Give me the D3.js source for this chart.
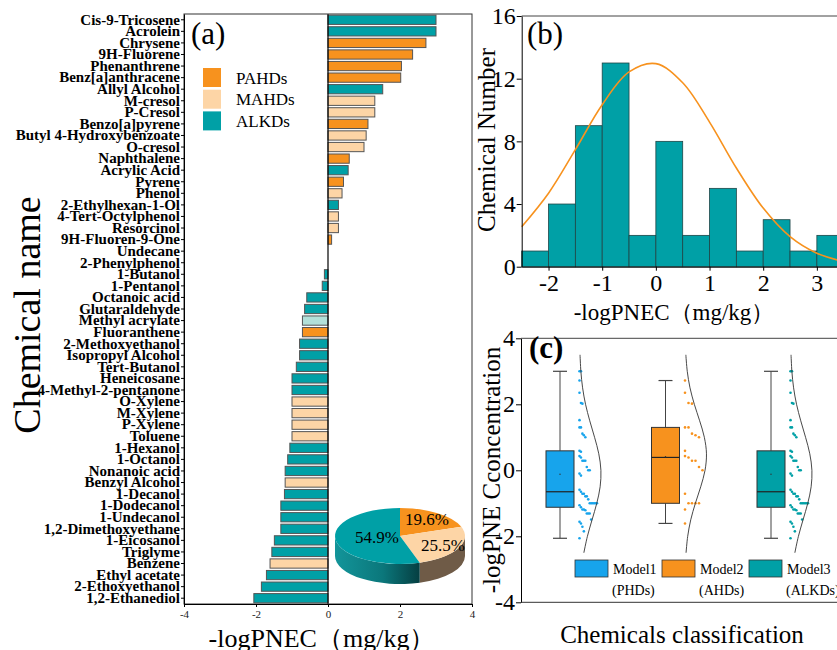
<!DOCTYPE html>
<html>
<head>
<meta charset="utf-8">
<script src="https://cdn.jsdelivr.net/npm/d3@7"></script>
<style>
  body { margin: 0; background: #fff; }
  svg { display: block; font-family: "Times New Roman", "Liberation Serif", serif; }
</style>
</head>
<body>
<div id="chart"></div>
<script>
// Chemicals, top to bottom as in panel (a)
const chemicals = [
    "Cis-9-Tricosene", "Acrolein", "Chrysene", "9H-Fluorene", "Phenanthrene",
    "Benz[a]anthracene", "Allyl Alcohol", "M-cresol", "P-Cresol", "Benzo[a]pyrene",
    "Butyl 4-Hydroxybenzoate", "O-cresol", "Naphthalene", "Acrylic Acid", "Pyrene",
    "Phenol", "2-Ethylhexan-1-Ol", "4-Tert-Octylphenol", "Resorcinol", "9H-Fluoren-9-One",
    "Undecane", "2-Phenylphenol", "1-Butanol", "1-Pentanol", "Octanoic acid",
    "Glutaraldehyde", "Methyl acrylate", "Fluoranthene", "2-Methoxyethanol", "Isopropyl Alcohol",
    "Tert-Butanol", "Heneicosane", "4-Methyl-2-pentanone", "O-Xylene", "M-Xylene",
    "P-Xylene", "Toluene", "1-Hexanol", "1-Octanol", "Nonanoic acid",
    "Benzyl Alcohol", "1-Decanol", "1-Dodecanol", "1-Undecanol", "1,2-Dimethoxyethane",
    "1-Eicosanol", "Triglyme", "Benzene", "Ethyl acetate", "2-Ethoxyethanol",
    "1,2-Ethanediol"
];

// -logPNEC (mg/kg)
const pnec = [
    3.0, 3.0, 2.72, 2.35, 2.04,
    2.02, 1.52, 1.30, 1.30, 1.11,
    1.06, 1.0, 0.59, 0.56, 0.43,
    0.39, 0.29, 0.29, 0.29, 0.10,
    0, 0, -0.10, -0.16, -0.59,
    -0.65, -0.71, -0.71, -0.79, -0.79,
    -0.88, -1.0, -1.0, -1.0, -1.0,
    -1.0, -1.0, -1.06, -1.12, -1.19,
    -1.19, -1.21, -1.31, -1.31, -1.31,
    -1.49, -1.56, -1.61, -1.71, -1.85,
    -2.06
];

// class of each chemical
const classes = [
    "ALKD", "ALKD", "PAHD", "PAHD", "PAHD",
    "PAHD", "ALKD", "MAHD", "MAHD", "PAHD",
    "MAHD", "MAHD", "PAHD", "ALKD", "PAHD",
    "MAHD", "ALKD", "MAHD", "MAHD", "PAHD",
    "ALKD", "PAHD", "ALKD", "ALKD", "ALKD",
    "ALKD", "ALKD", "PAHD", "ALKD", "ALKD",
    "ALKD", "ALKD", "ALKD", "MAHD", "MAHD",
    "MAHD", "MAHD", "ALKD", "ALKD", "ALKD",
    "MAHD", "ALKD", "ALKD", "ALKD", "ALKD",
    "ALKD", "ALKD", "MAHD", "ALKD", "ALKD",
    "ALKD"
];

const classKeys = ["PAHD", "MAHD", "ALKD"];
const classLabels = ["PAHDs", "MAHDs", "ALKDs"];
const classColors = {PAHD: "#F7921E", MAHD: "#FDD5A6", ALKD: "#00A0A6"};
const paleBar = "Methyl acrylate";

// Fitted curve drawn over histogram (b)
const fitX = [-2.5, -2, -1.5, -1, -0.5, 0, 0.5, 1, 1.5, 2, 2.5, 3, 3.5];
const fitCount = [2.55, 4.69, 7.47, 10.34, 12.43, 12.96, 11.74, 9.23, 6.30, 3.74, 1.92, 0.86, 0.33];

// Half-violin outlines in (c): relative density at each value
const densValues = [3.5, 3, 2.5, 2, 1.5, 1, 0.5, 0, -0.5, -1, -1.5, -2, -2.5];
const densAll = [0.025, 0.064, 0.144, 0.281, 0.477, 0.701, 0.897, 0.996, 0.960, 0.803, 0.584, 0.368, 0.202];
const densAromatic = [0.040, 0.105, 0.232, 0.434, 0.682, 0.900, 0.999, 0.932, 0.731, 0.482, 0.267, 0.125, 0.049];

const models = ["Model1", "Model2", "Model3"];
const modelSubs = ["(PHDs)", "(AHDs)", "(ALKDs)"];
const modelColors = ["#17A4EC", "#F7921E", "#00A0A6"];

const plainTick = d => String(d);
const serif = "'Times New Roman','Liberation Serif',serif";

const W = 837, H = 650;
const svg = d3.select("#chart").append("svg").attr("width", W).attr("height", H);

// ---------------- Panel (a): horizontal bars ----------------
const a = {left: 184, right: 472, top: 14, bottom: 604};

const xA = d3.scaleLinear().domain([-4, 4]).range([a.left, a.right]);
const yA = d3.scaleBand().domain(chemicals).range([a.top, a.bottom])
    .paddingInner(0.2).paddingOuter(0.1);

const barData = chemicals.map((name, i) => ({name, value: pnec[i], cls: classes[i]}));

svg.append("g")
    .selectAll("rect")
    .data(barData)
    .enter()
    .append("rect")
    .attr("x", d => xA(Math.min(0, d.value)))
    .attr("y", d => yA(d.name))
    .attr("width", d => Math.abs(xA(d.value) - xA(0)))
    .attr("height", yA.bandwidth())
    .attr("fill", d => d.name === paleBar ? "#B2E0D9" : classColors[d.cls])
    .attr("stroke", "#555")
    .attr("stroke-width", 1);

// zero line
svg.append("line")
    .attr("x1", xA(0)).attr("x2", xA(0))
    .attr("y1", a.top).attr("y2", a.bottom)
    .attr("stroke", "#000").attr("stroke-width", 1.2);

// frame
svg.append("rect")
    .attr("x", a.left).attr("y", a.top)
    .attr("width", a.right - a.left).attr("height", a.bottom - a.top)
    .attr("fill", "none").attr("stroke", "#333").attr("stroke-width", 1);

// y axis with chemical names
const yAxisA = svg.append("g")
    .attr("transform", `translate(${a.left},0)`)
    .call(d3.axisLeft(yA).tickSize(3).tickPadding(1).tickSizeOuter(0));
yAxisA.select(".domain").attr("stroke", "#000");
yAxisA.selectAll("text")
    .style("font-family", serif)
    .style("font-size", "15px")
    .style("font-weight", "bold")
    .attr("fill", "#000");

// x axis
const xAxisA = svg.append("g")
    .attr("transform", `translate(0,${a.bottom})`)
    .call(d3.axisBottom(xA).tickValues([-4, -2, 0, 2, 4]).tickFormat(plainTick)
        .tickSize(3).tickSizeOuter(0));
xAxisA.selectAll("text")
    .style("font-family", serif)
    .style("font-size", "11px")
    .attr("fill", "#222");

svg.append("text")
    .attr("x", 322).attr("y", 647)
    .attr("text-anchor", "middle")
    .style("font-size", "26px")
    .text("-logPNEC（mg/kg）");

svg.append("text")
    .attr("transform", "translate(40,315) rotate(-90)")
    .attr("text-anchor", "middle")
    .style("font-size", "38px")
    .text("Chemical name");

svg.append("text")
    .attr("x", 191).attr("y", 44)
    .style("font-size", "31px")
    .text("(a)");

// legend for classes
const legA = svg.append("g").attr("transform", "translate(203,68)");
classKeys.forEach((k, i) => {
    legA.append("rect")
        .attr("x", 0).attr("y", i * 21.7)
        .attr("width", 18).attr("height", 19)
        .attr("fill", classColors[k]);
    legA.append("text")
        .attr("x", 33).attr("y", i * 21.7 + 15.5)
        .style("font-size", "17px")
        .text(classLabels[i]);
});

// ---------------- Pie inset ----------------
const pieCounts = classKeys.map(k => ({key: k, count: classes.filter(c => c === k).length}));
const pieTotal = d3.sum(pieCounts, d => d.count);
const pieArcs = d3.pie().sort(null).value(d => d.count)(pieCounts);

const pc = {cx: 400, cy: 536, rx: 65, ry: 28, depth: 20};
const pieLabelR = [0.72, 0.74, 0.36];

function ep(angle, dy = 0) {
    const t = angle - Math.PI / 2;
    return [pc.cx + pc.rx * Math.cos(t), pc.cy + pc.ry * Math.sin(t) + dy];
}

const defs = svg.append("defs");
const gTeal = defs.append("linearGradient").attr("id", "sideTeal")
    .attr("gradientUnits", "userSpaceOnUse")
    .attr("x1", pc.cx - pc.rx).attr("x2", pc.cx + 22).attr("y1", 0).attr("y2", 0);
gTeal.append("stop").attr("offset", "0").attr("stop-color", "#13959A");
gTeal.append("stop").attr("offset", "0.55").attr("stop-color", "#0B777B");
gTeal.append("stop").attr("offset", "1").attr("stop-color", "#053B3E");

const sideColors = {PAHD: "#8A5310", MAHD: "#6F5B47", ALKD: "url(#sideTeal)"};

const pieG = svg.append("g");

// visible sides (front half of the ellipse)
pieArcs.forEach(d => {
    const s0 = Math.max(d.startAngle, Math.PI / 2);
    const s1 = Math.min(d.endAngle, Math.PI * 1.5);
    if (s0 >= s1) return;
    const p0 = ep(s0), p1 = ep(s1), q1 = ep(s1, pc.depth), q0 = ep(s0, pc.depth);
    const path = `M${p0}A${pc.rx},${pc.ry} 0 0 1 ${p1}L${q1}A${pc.rx},${pc.ry} 0 0 0 ${q0}Z`;
    pieG.append("path").attr("d", path).attr("fill", sideColors[d.data.key]);
});

// top faces
pieArcs.forEach(d => {
    const p0 = ep(d.startAngle), p1 = ep(d.endAngle);
    const large = d.endAngle - d.startAngle > Math.PI ? 1 : 0;
    const path = `M${pc.cx},${pc.cy}L${p0}A${pc.rx},${pc.ry} 0 ${large} 1 ${p1}Z`;
    pieG.append("path").attr("d", path).attr("fill", classColors[d.data.key]);
});

pieArcs.forEach((d, i) => {
    const mid = (d.startAngle + d.endAngle) / 2 - Math.PI / 2;
    const f = pieLabelR[i];
    pieG.append("text")
        .attr("x", pc.cx + pc.rx * f * Math.cos(mid))
        .attr("y", pc.cy + pc.ry * f * Math.sin(mid))
        .attr("text-anchor", "middle")
        .attr("dominant-baseline", "central")
        .style("font-size", "17px")
        .text((d.data.count / pieTotal * 100).toFixed(1) + "%");
});

// ---------------- Panel (b): histogram ----------------
const b = {left: 521.7, top: 16, bottom: 266.7};
const xB = d3.scaleLinear().domain([-2.5, 3.5]).range([b.left, b.left + 322]);
const yB = d3.scaleLinear().domain([0, 16]).range([b.bottom, b.top]);

const bins = d3.bin().domain([-2.5, 3.5]).thresholds(d3.range(-2, 3.5, 0.5))(pnec);

svg.append("g")
    .selectAll("rect")
    .data(bins)
    .enter()
    .append("rect")
    .attr("x", d => xB(d.x0))
    .attr("y", d => yB(d.length))
    .attr("width", d => xB(d.x1) - xB(d.x0))
    .attr("height", d => yB(0) - yB(d.length))
    .attr("fill", "#00A0A6")
    .attr("stroke", "#1E4546")
    .attr("stroke-width", 0.8);

svg.append("path")
    .datum(fitX.map((x, i) => [x, fitCount[i]]))
    .attr("d", d3.line().x(d => xB(d[0])).y(d => yB(d[1])).curve(d3.curveCatmullRom))
    .attr("fill", "none")
    .attr("stroke", "#F7921E")
    .attr("stroke-width", 1.6);

svg.append("line")
    .attr("x1", b.left).attr("x2", W).attr("y1", b.top).attr("y2", b.top)
    .attr("stroke", "#444").attr("stroke-width", 1);

const yAxisB = svg.append("g")
    .attr("transform", `translate(${b.left},0)`)
    .call(d3.axisLeft(yB).tickValues([0, 4, 8, 12, 16]).tickFormat(plainTick)
        .tickSize(5).tickPadding(1).tickSizeOuter(0));
const xAxisB = svg.append("g")
    .attr("transform", `translate(0,${b.bottom})`)
    .call(d3.axisBottom(xB).tickValues([-2, -1, 0, 1, 2, 3]).tickFormat(plainTick)
        .tickSize(4).tickPadding(3).tickSizeOuter(0));
[yAxisB, xAxisB].forEach(g => {
    g.selectAll("text")
        .style("font-family", serif)
        .style("font-size", "24px")
        .attr("fill", "#000");
});

svg.append("text")
    .attr("x", 674).attr("y", 320)
    .attr("text-anchor", "middle")
    .style("font-size", "23px")
    .text("-logPNEC（mg/kg）");

svg.append("text")
    .attr("transform", "translate(495,140) rotate(-90)")
    .attr("text-anchor", "middle")
    .style("font-size", "25px")
    .text("Chemical Number");

svg.append("text")
    .attr("x", 527).attr("y", 44)
    .style("font-size", "31px")
    .text("(b)");

// ---------------- Panel (c): box + dots + half violin ----------------
const c = {left: 521, top: 338.3, bottom: 602.3};
const xC = d3.scalePoint().domain(models).range([560, 771]);
const yC = d3.scaleLinear().domain([-4, 4]).range([c.bottom, c.top]);

const groupValues = [
    pnec,
    pnec.filter((v, i) => classes[i] !== "ALKD"),
    pnec
];
const groupDens = [densAll, densAromatic, densAll];

// quantile with (n+1)p positions
function quant(sortedAsc, p) {
    const n = sortedAsc.length;
    let pos = (n + 1) * p;
    pos = Math.max(1, Math.min(n, pos));
    const lo = Math.floor(pos), hi = Math.ceil(pos);
    return sortedAsc[lo - 1] + (pos - lo) * (sortedAsc[hi - 1] - sortedAsc[lo - 1]);
}

const boxW = 28, capW = 14, dotGap = 19.5, violinW = 21.5;

models.forEach((m, gi) => {
    const vals = groupValues[gi];
    const asc = vals.slice().sort((p, q) => p - q);
    const q1 = quant(asc, 0.25), med = quant(asc, 0.5), q3 = quant(asc, 0.75);
    const lo = asc[0], hi = asc[asc.length - 1];
    const cx = xC(m);
    const g = svg.append("g");

    // whiskers
    g.append("line").attr("x1", cx).attr("x2", cx).attr("y1", yC(hi)).attr("y2", yC(q3))
        .attr("stroke", "#444");
    g.append("line").attr("x1", cx).attr("x2", cx).attr("y1", yC(q1)).attr("y2", yC(lo))
        .attr("stroke", "#444");
    [hi, lo].forEach(v => {
        g.append("line").attr("x1", cx - capW / 2).attr("x2", cx + capW / 2)
            .attr("y1", yC(v)).attr("y2", yC(v)).attr("stroke", "#444").attr("stroke-width", 1.2);
    });
    g.append("rect")
        .attr("x", cx - boxW / 2).attr("y", yC(q3))
        .attr("width", boxW).attr("height", yC(q1) - yC(q3))
        .attr("fill", modelColors[gi]).attr("stroke", "#333").attr("stroke-width", 1);
    g.append("line").attr("x1", cx - boxW / 2).attr("x2", cx + boxW / 2)
        .attr("y1", yC(med)).attr("y2", yC(med)).attr("stroke", "#222").attr("stroke-width", 1.2);
    g.append("circle").attr("cx", cx).attr("cy", yC(d3.mean(vals))).attr("r", 0.7)
        .attr("fill", "#333");

    // dots stacked to the right inside 0.5-wide bins
    const desc = vals.slice().sort((p, q) => q - p);
    const binOf = v => Math.floor((v + 2.5) / 0.5);
    const counts = d3.rollup(desc, v => v.length, binOf);
    const step = 17.5 / (d3.max(counts.values()) - 1);
    const seen = new Map();
    const dots = desc.map(v => {
        const bi = binOf(v);
        const k = seen.get(bi) || 0;
        seen.set(bi, k + 1);
        return {v, k};
    });
    g.selectAll("circle.dot")
        .data(dots)
        .enter()
        .append("circle")
        .attr("class", "dot")
        .attr("cx", d => cx + dotGap + d.k * step)
        .attr("cy", d => yC(d.v))
        .attr("r", 1.3)
        .attr("fill", modelColors[gi]);

    // half violin outline
    const dens = groupDens[gi];
    g.append("path")
        .datum(densValues.map((v, i) => [v, dens[i]]))
        .attr("d", d3.line()
            .x(d => cx + dotGap + d[1] * violinW)
            .y(d => yC(d[0]))
            .curve(d3.curveCatmullRom))
        .attr("fill", "none")
        .attr("stroke", "#333")
        .attr("stroke-width", 0.9);
});

svg.append("line")
    .attr("x1", c.left).attr("x2", W).attr("y1", c.top).attr("y2", c.top)
    .attr("stroke", "#444");

const yAxisC = svg.append("g")
    .attr("transform", `translate(${c.left},0)`)
    .call(d3.axisLeft(yC).tickValues([-4, -2, 0, 2, 4]).tickFormat(plainTick)
        .tickSize(5).tickPadding(1).tickSizeOuter(0));
yAxisC.selectAll("text")
    .style("font-family", serif)
    .style("font-size", "24px")
    .attr("fill", "#000");
svg.append("line")
    .attr("x1", c.left).attr("x2", W).attr("y1", c.bottom).attr("y2", c.bottom)
    .attr("stroke", "#333");

// legend for models
models.forEach((m, i) => {
    const lx = 575 + i * 87;
    svg.append("rect")
        .attr("x", lx).attr("y", 560).attr("width", 33).attr("height", 17)
        .attr("fill", modelColors[i]).attr("stroke", "#333").attr("stroke-width", 0.8);
    svg.append("text")
        .attr("x", lx + 38).attr("y", 574)
        .style("font-size", "14px")
        .text(m);
    svg.append("text")
        .attr("x", lx + 37).attr("y", 595)
        .style("font-size", "14px")
        .text(modelSubs[i]);
});

svg.append("text")
    .attr("x", 682).attr("y", 643)
    .attr("text-anchor", "middle")
    .style("font-size", "25px")
    .text("Chemicals classification");

svg.append("text")
    .attr("transform", "translate(500,470) rotate(-90)")
    .attr("text-anchor", "middle")
    .style("font-size", "25px")
    .text("-logPNE Cconcentration");

svg.append("text")
    .attr("x", 529).attr("y", 358)
    .style("font-size", "31px")
    .style("font-weight", "bold")
    .text("(c)");
</script>
</body>
</html>
